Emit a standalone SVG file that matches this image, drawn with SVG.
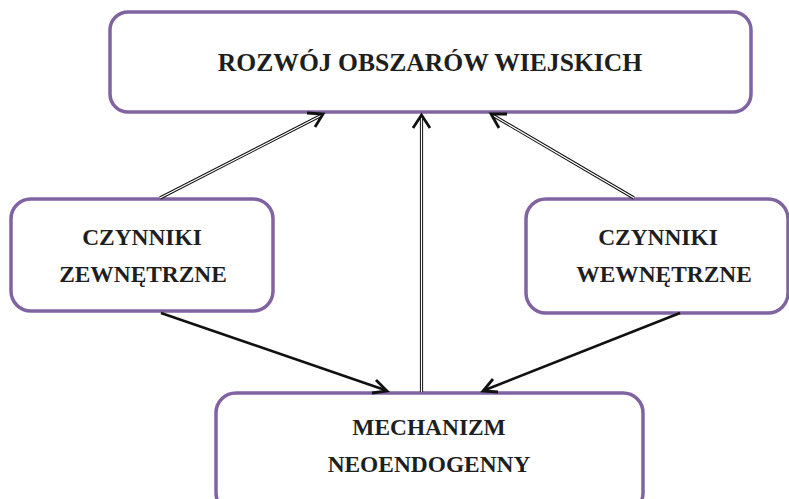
<svg xmlns="http://www.w3.org/2000/svg" width="789" height="499" viewBox="0 0 789 499">
<defs>
<style>
.box{fill:#fff;stroke:#8064A2;stroke-width:3.5}
.t{font-family:"Liberation Serif","Times New Roman",serif;font-weight:bold;font-size:23.4px;fill:#1e1e1e;text-anchor:middle}
.dbl-o{stroke:#111;stroke-width:3.2;fill:none}
.dbl-i{stroke:#fff;stroke-width:1.2;fill:none}
.sol{stroke:#111;stroke-width:2.6;fill:none}
.head{stroke:#111;stroke-width:2.8;fill:none;stroke-linecap:butt;stroke-linejoin:miter}
</style>
</defs>
<rect width="789" height="499" fill="#fff"/>
<g id="n-top"><rect class="box" x="110" y="12" width="641" height="100" rx="18"/>
<text class="t" x="430" y="71" style="font-size:25.6px">ROZWÓJ OBSZARÓW WIEJSKICH</text></g>
<g id="n-left"><rect class="box" x="11" y="199" width="262" height="112" rx="20"/>
<text class="t" x="142" y="245">CZYNNIKI</text><text class="t" x="143" y="282">ZEWNĘTRZNE</text></g>
<g id="n-right"><rect class="box" x="526" y="199" width="262" height="114" rx="20"/>
<text class="t" x="658" y="245">CZYNNIKI</text><text class="t" x="664" y="282">WEWNĘTRZNE</text></g>
<g id="n-bottom"><rect class="box" x="216" y="393" width="427" height="120" rx="20"/>
<text class="t" x="429" y="435">MECHANIZM</text><text class="t" x="429" y="472">NEOENDOGENNY</text></g>
<g id="connectors">
<path class="dbl-o" d="M160,198 L320,116"/><path class="dbl-i" d="M160,198 L320,116"/>
<path class="head" d="M307,113 L323,114 L315,127"/>
<path class="dbl-o" d="M421.5,392 L421.5,117"/><path class="dbl-i" d="M421.5,392 L421.5,117"/>
<path class="head" d="M413,128 L421.5,115 L430,128"/>
<path class="dbl-o" d="M634,198 L494,116"/><path class="dbl-i" d="M634,198 L494,116"/>
<path class="head" d="M507,114 L491,114 L499,128"/>
<path class="sol" d="M161,313 L385,390"/>
<path class="head" d="M376,380 L387,391 L372,393"/>
<path class="sol" d="M680,313 L485,390"/>
<path class="head" d="M493,379 L483,391 L498,392"/>
</g>
</svg>
